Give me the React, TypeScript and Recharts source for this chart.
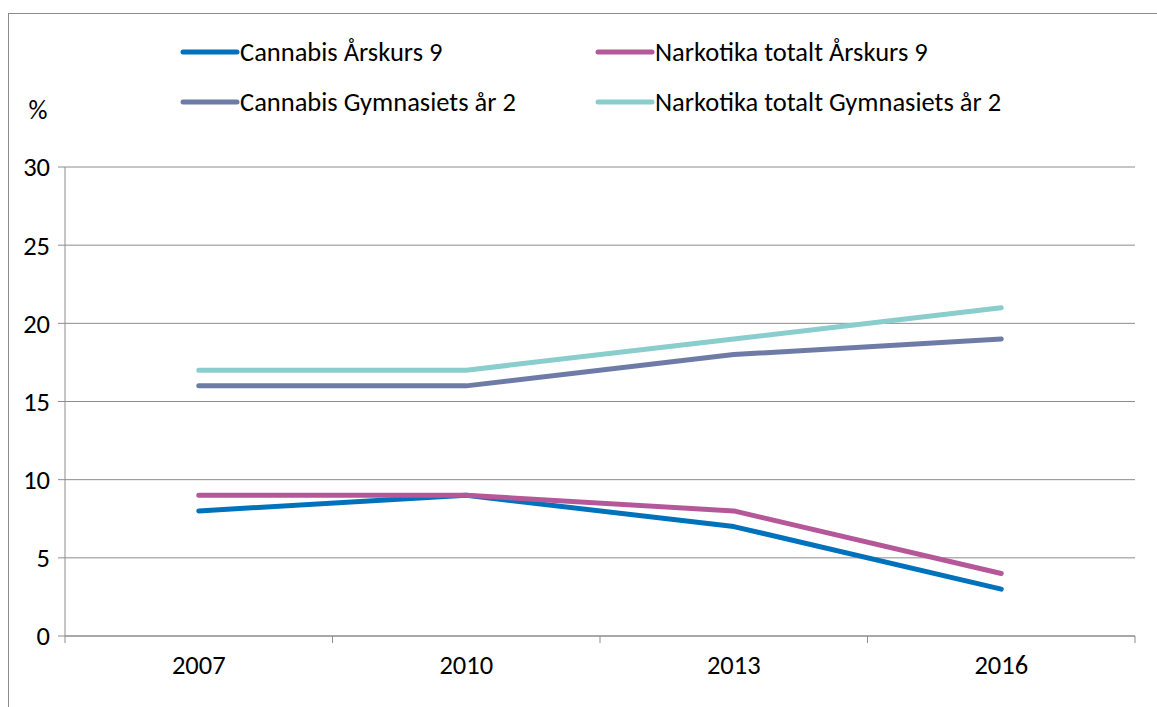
import React from 'react';
import { LineChart, Line, XAxis, YAxis, CartesianGrid } from 'recharts';

const years = ['2007', '2010', '2013', '2016'];
const cannabisAk9 = [8, 9, 7, 3];
const narkotikaAk9 = [9, 9, 8, 4];
const cannabisGy2 = [16, 16, 18, 19];
const narkotikaGy2 = [17, 17, 19, 21];
const yTicks = [0, 5, 10, 15, 20, 25, 30];

const series = [
    { key: 'cannabisAk9', name: 'Cannabis Årskurs 9', color: '#0072BC', values: cannabisAk9 },
    { key: 'narkotikaAk9', name: 'Narkotika totalt Årskurs 9', color: '#B5589A', values: narkotikaAk9 },
    { key: 'cannabisGy2', name: 'Cannabis Gymnasiets år 2', color: '#6E7BA7', values: cannabisGy2 },
    { key: 'narkotikaGy2', name: 'Narkotika totalt Gymnasiets år 2', color: '#89CDCD', values: narkotikaGy2 },
];

const FONT = 'Calibri, Carlito, Lato, sans-serif';
const GRID = '#8c8c8c';
const FS = 26.5;

// years sit in the middle of each band, the tick marks on the band edges
const data = years.map((year, i) => {
    const row: Record<string, number | string> = { x: i + 0.5, year };
    series.forEach(s => { row[s.key] = s.values[i]; });
    return row;
});

const xTicks: number[] = [];
for (let i = 0; i <= years.length; i++) {
    xTicks.push(i);
    if (i < years.length) xTicks.push(i + 0.5);
}

const XTick = (props: any) => {
    const { x, y, payload } = props;
    const v = payload.value;
    if (Number.isInteger(v)) {
        return <line x1={x} x2={x} y1={y} y2={y + 7} stroke={GRID} strokeWidth={1} />;
    }
    return (
        <text x={x} y={y + 32} textAnchor="middle" fill="#000" fontSize={FS} fontFamily={FONT} dominantBaseline="middle">
            {years[v - 0.5]}
        </text>
    );
};

const Legend = () => (
    <div
        style={{
            position: 'absolute',
            left: 180,
            top: 36,
            display: 'grid',
            gridTemplateColumns: '415px auto',
            rowGap: 18,
            fontFamily: FONT,
            fontSize: FS,
            color: '#000',
        }}
    >
        {series.map(s => (
            <div key={s.key} style={{ display: 'flex', alignItems: 'center', height: 32, whiteSpace: 'nowrap' }}>
                <svg width={60} height={10} style={{ flexShrink: 0 }}>
                    <line x1={3} x2={57} y1={5} y2={5} stroke={s.color} strokeWidth={5} strokeLinecap="round" />
                </svg>
                <span>{s.name}</span>
            </div>
        ))}
    </div>
);

export default function App() {
    return (
        <div style={{ position: 'fixed', left: 0, top: 0, width: 1157, height: 707, overflow: 'hidden', background: '#fff' }}>
            <div
                style={{
                    position: 'absolute',
                    left: 8,
                    top: 13,
                    width: 1200,
                    height: 760,
                    borderLeft: `1px solid ${GRID}`,
                    borderTop: `1px solid ${GRID}`,
                }}
            />
            <div style={{ position: 'absolute', left: 0, top: 0 }}>
                <LineChart width={1157} height={707} data={data} margin={{ top: 167, right: 22, bottom: 31, left: 0 }}>
                    <CartesianGrid vertical={false} stroke={GRID} strokeWidth={1} />
                    <XAxis
                        dataKey="x"
                        type="number"
                        domain={[0, years.length]}
                        ticks={xTicks}
                        interval={0}
                        height={40}
                        tickSize={0}
                        tickMargin={0}
                        tickLine={false}
                        axisLine={{ stroke: GRID, strokeWidth: 1 }}
                        tick={<XTick />}
                    />
                    <YAxis
                        domain={[0, 30]}
                        ticks={yTicks}
                        interval={0}
                        width={65}
                        tickSize={7}
                        tickMargin={8}
                        axisLine={{ stroke: GRID, strokeWidth: 1 }}
                        tickLine={{ stroke: GRID, strokeWidth: 1 }}
                        tick={{ fill: '#000', fontSize: FS, fontFamily: FONT }}
                        label={{
                            content: (p: any) => (
                                <text
                                    x={38}
                                    y={p.viewBox.y - 54}
                                    textAnchor="middle"
                                    dominantBaseline="middle"
                                    fontSize={FS}
                                    fontFamily={FONT}
                                    fill="#000"
                                >
                                    %
                                </text>
                            ),
                        }}
                    />
                    {series.map(s => (
                        <Line
                            key={s.key}
                            dataKey={s.key}
                            name={s.name}
                            type="linear"
                            stroke={s.color}
                            strokeWidth={5}
                            strokeLinecap="round"
                            strokeLinejoin="round"
                            dot={false}
                            activeDot={false}
                            isAnimationActive={false}
                        />
                    ))}
                </LineChart>
            </div>
            <Legend />
        </div>
    );
}
